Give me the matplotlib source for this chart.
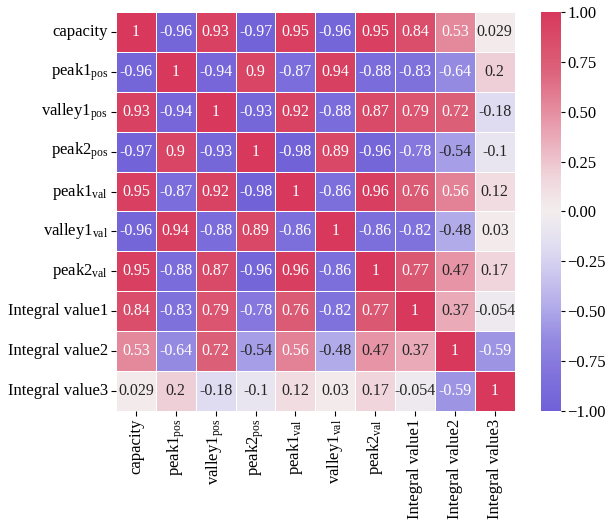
import numpy as np
import pandas as pd
import matplotlib
matplotlib.use("Agg")
import matplotlib.pyplot as plt
from matplotlib.colors import LinearSegmentedColormap
import seaborn as sns

plt.rcParams["font.family"] = ["Liberation Serif", "DejaVu Serif"]
plt.rcParams["mathtext.fontset"] = "custom"
plt.rcParams["mathtext.rm"] = "Liberation Serif"
plt.rcParams["mathtext.it"] = "Liberation Serif"

labels = [
    "capacity",
    r"peak1$_\mathrm{pos}$",
    r"valley1$_\mathrm{pos}$",
    r"peak2$_\mathrm{pos}$",
    r"peak1$_\mathrm{val}$",
    r"valley1$_\mathrm{val}$",
    r"peak2$_\mathrm{val}$",
    "Integral value1",
    "Integral value2",
    "Integral value3",
]

row_capacity = [1, -0.96, 0.93, -0.97, 0.95, -0.96, 0.95, 0.84, 0.53, 0.029]
row_peak1_pos = [-0.96, 1, -0.94, 0.9, -0.87, 0.94, -0.88, -0.83, -0.64, 0.2]
row_valley1_pos = [0.93, -0.94, 1, -0.93, 0.92, -0.88, 0.87, 0.79, 0.72, -0.18]
row_peak2_pos = [-0.97, 0.9, -0.93, 1, -0.98, 0.89, -0.96, -0.78, -0.54, -0.1]
row_peak1_val = [0.95, -0.87, 0.92, -0.98, 1, -0.86, 0.96, 0.76, 0.56, 0.12]
row_valley1_val = [-0.96, 0.94, -0.88, 0.89, -0.86, 1, -0.86, -0.82, -0.48, 0.03]
row_peak2_val = [0.95, -0.88, 0.87, -0.96, 0.96, -0.86, 1, 0.77, 0.47, 0.17]
row_integral1 = [0.84, -0.83, 0.79, -0.78, 0.76, -0.82, 0.77, 1, 0.37, -0.054]
row_integral2 = [0.53, -0.64, 0.72, -0.54, 0.56, -0.48, 0.47, 0.37, 1, -0.59]
row_integral3 = [0.029, 0.2, -0.18, -0.1, 0.12, 0.03, 0.17, -0.054, -0.59, 1]

corr = pd.DataFrame(
    [row_capacity, row_peak1_pos, row_valley1_pos, row_peak2_pos, row_peak1_val,
     row_valley1_val, row_peak2_val, row_integral1, row_integral2, row_integral3],
    index=labels, columns=labels,
)

# Diverging purple-blue -> light grey -> crimson
cmap = LinearSegmentedColormap.from_list(
    "blue_red",
    [
        (0.00, "#7161d8"),
        (0.09, "#8072dc"),
        (0.18, "#958ae1"),
        (0.26, "#b2abea"),
        (0.41, "#e0ddf1"),
        (0.50, "#f2eeee"),
        (0.585, "#f0d6dc"),
        (0.735, "#e795a7"),
        (0.86, "#dc6079"),
        (1.00, "#d7385b"),
    ],
)

fig = plt.figure(figsize=(6.07, 5.2), dpi=100)
ax = fig.add_axes([0.191, 0.2096, 0.657, 0.7674])
cax = fig.add_axes([0.891, 0.2096, 0.033, 0.7674])

sns.heatmap(
    corr, ax=ax, cbar_ax=cax, cmap=cmap, vmin=-1, vmax=1,
    annot=True, annot_kws={"fontsize": 11.5},
    linewidths=0.6, linecolor="white",
)

# light text on the strongly coloured cells, dark text on the pale ones
for txt in ax.texts:
    v = float(txt.get_text())
    txt.set_color("white" if (v >= 0.5 or v <= -0.55) else "#262626")

ax.tick_params(axis="both", labelsize=12, length=3.5, width=0.8, pad=2)
ax.set_xticklabels(ax.get_xticklabels(), rotation=90)
ax.set_yticklabels(ax.get_yticklabels(), rotation=0)
cax.tick_params(labelsize=12, length=3, width=0.8, pad=1.5)

fig.savefig("out.png", dpi=100)
